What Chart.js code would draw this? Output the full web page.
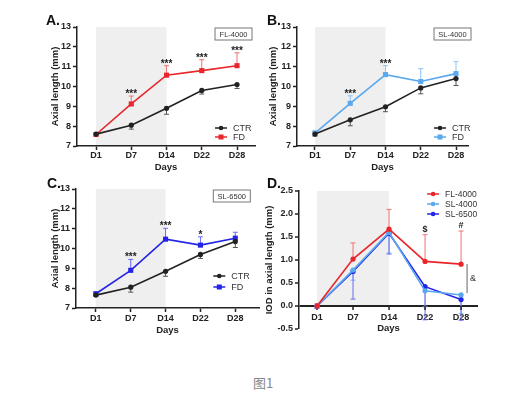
<!DOCTYPE html>
<html><head><meta charset="utf-8">
<script src="https://cdn.jsdelivr.net/npm/chart.js@4.4.1/dist/chart.umd.min.js"></script>
<style>
body{margin:0;background:#fff;width:526px;height:401px;position:relative;overflow:hidden;font-family:"Liberation Sans",Arial,sans-serif}
canvas{position:absolute}
.lt{position:absolute;font-weight:bold;font-size:14px;line-height:14px;color:#111}
#cap{position:absolute;left:0;width:526px;top:376px;text-align:center;font-family:"Noto Sans CJK SC";font-size:13px;line-height:13px;color:#888}
</style></head><body>
<canvas id="cA" width="263" height="175" style="left:0;top:0"></canvas>
<canvas id="cB" width="263" height="175" style="left:263px;top:0"></canvas>
<canvas id="cC" width="263" height="175" style="left:0;top:170px"></canvas>
<canvas id="cD" width="263" height="175" style="left:263px;top:170px"></canvas>
<div class="lt" style="left:46px;top:13px">A.</div>
<div class="lt" style="left:267px;top:13px">B.</div>
<div class="lt" style="left:47px;top:176px">C.</div>
<div class="lt" style="left:267px;top:176px">D.</div>
<div id="cap">图1</div>
<script>
// ---- data ----
const days = ['D1', 'D7', 'D14', 'D22', 'D28'];
const yTicksAL = [7, 8, 9, 10, 11, 12, 13];
const yTicksIOD = [-0.5, 0, 0.5, 1, 1.5, 2, 2.5];

const A_CTR = [7.6, 8.05, 8.9, 9.8, 10.1];
const A_CTR_err = [0.05, 0.2, 0.3, 0.18, 0.2];
const A_FD = [7.58, 9.12, 10.57, 10.8, 11.05];
const A_FD_err = [0.03, 0.4, 0.48, 0.55, 0.65];
const A_sig = ['', '***', '***', '***', '***'];

const B_CTR = [7.6, 8.32, 8.98, 9.93, 10.4];
const B_CTR_err = [0.1, 0.3, 0.25, 0.3, 0.35];
const B_FD = [7.65, 9.15, 10.6, 10.25, 10.65];
const B_FD_err = [0.1, 0.38, 0.45, 0.65, 0.6];
const B_sig = ['', '***', '***', '', ''];

const C_CTR = [7.65, 8.05, 8.85, 9.7, 10.35];
const C_CTR_err = [0.05, 0.25, 0.25, 0.2, 0.3];
const C_FD = [7.72, 8.9, 10.47, 10.17, 10.52];
const C_FD_err = [0.05, 0.55, 0.55, 0.42, 0.3];
const C_sig = ['', '***', '***', '*', ''];

const D_FL4000 = [0.0, 1.02, 1.67, 0.97, 0.91];
const D_FL4000_err = [0.05, 0.35, 0.43, 0.58, 0.72];
const D_SL4000 = [0.0, 0.78, 1.6, 0.33, 0.24];
const D_SL4000_err = [0.05, 0.22, 0.45, 0.35, 0.4];
const D_SL6500 = [0.0, 0.75, 1.58, 0.42, 0.14];
const D_SL6500_err = [0.05, 0.6, 0.45, 0.72, 0.45];
const D_sig = ['', '', '', '$', '#'];

// ---- styling ----
const FONT = '"Liberation Sans", Arial, sans-serif';
Chart.defaults.font.family = FONT;
const INK = '#222';

const panelPlugin = {
  id: 'panel',
  beforeDraw(chart, args, o) {
    const {ctx, chartArea: ca, scales: {x, y}} = chart;
    const yb = o.zeroAxis ? y.getPixelForValue(0) : ca.bottom;
    const x0 = x.getPixelForValue(0), x1 = x.getPixelForValue(2);
    ctx.save();
    ctx.fillStyle = '#efefef';
    ctx.fillRect(x0, ca.top, x1 - x0, yb - ca.top);
    ctx.restore();
  },
  beforeDatasetsDraw(chart, args, o) {
    const {ctx, scales: {x, y}} = chart;
    ctx.save();
    chart.data.datasets.forEach(ds => {
      ctx.strokeStyle = ds.errColor;
      ctx.lineWidth = 1;
      ds.data.forEach((p, i) => {
        const e = ds.err[i];
        if (!e) return;
        const px = x.getPixelForValue(p.x), py = y.getPixelForValue(p.y);
        const pe = y.getPixelForValue(p.y + ds.errDir * e);
        ctx.beginPath();
        ctx.moveTo(px, py); ctx.lineTo(px, pe);
        ctx.moveTo(px - 2.5, pe); ctx.lineTo(px + 2.5, pe);
        ctx.stroke();
      });
    });
    if (o.zeroAxis) {
      const y0 = y.getPixelForValue(0);
      ctx.strokeStyle = INK; ctx.lineWidth = 1.5;
      days.forEach((d, i) => {
        const px = x.getPixelForValue(i);
        ctx.beginPath(); ctx.moveTo(px, y0); ctx.lineTo(px, y0 + 4); ctx.stroke();
      });
    }
    ctx.restore();
  },
  afterDatasetsDraw(chart, args, o) {
    const {ctx, chartArea: ca, scales: {x, y}} = chart;
    ctx.save();
    // significance marks
    const sds = chart.data.datasets[o.sigSet];
    ctx.fillStyle = INK;
    ctx.textAlign = 'center';
    ctx.textBaseline = 'alphabetic';
    o.sig.forEach((t, i) => {
      if (!t) return;
      const top = y.getPixelForValue(sds.data[i].y + sds.err[i]);
      const isStar = t.indexOf('*') >= 0;
      ctx.font = 'bold ' + (isStar ? 10 : 9) + 'px ' + FONT;
      ctx.fillText(t, x.getPixelForValue(i), isStar ? top + 1 : top - 3);
    });
    // legend
    const lx = x.getPixelForValue(days.length - 1) + o.legend.dx;
    ctx.font = o.legend.size + 'px ' + FONT;
    ctx.textAlign = 'left';
    ctx.textBaseline = 'middle';
    chart.data.datasets.forEach((ds, k) => {
      const ly = (o.legend.fromTop ? ca.top : ca.bottom) + o.legend.dy + k * o.legend.step;
      ctx.strokeStyle = ds.borderColor; ctx.lineWidth = 1.5;
      ctx.beginPath(); ctx.moveTo(lx, ly); ctx.lineTo(lx + 12, ly); ctx.stroke();
      ctx.fillStyle = ds.borderColor;
      if (ds.pointStyle === 'rect') ctx.fillRect(lx + 3.5, ly - 2.5, 5, 5);
      else { ctx.beginPath(); ctx.arc(lx + 6, ly, 2.3, 0, Math.PI * 2); ctx.fill(); }
      ctx.fillStyle = '#333';
      ctx.fillText(ds.label, lx + 18, ly + 0.5);
    });
    // tag box
    if (o.box) {
      const cx = x.getPixelForValue(days.length - 1) - 3.5;
      const bt = ca.top + 1;
      ctx.strokeStyle = '#777'; ctx.lineWidth = 1;
      ctx.strokeRect(cx - 18.5, bt, 37, 12);
      ctx.fillStyle = '#333';
      ctx.font = '7.5px ' + FONT;
      ctx.textAlign = 'center';
      ctx.fillText(o.box, cx, bt + 6.5);
    }
    // bracket (panel D)
    if (o.bracket) {
      const i = days.length - 1;
      const bx = x.getPixelForValue(i) + 6;
      const ya = y.getPixelForValue(chart.data.datasets[o.bracket[0]].data[i].y);
      const yb = y.getPixelForValue(chart.data.datasets[o.bracket[1]].data[i].y + 0.04);
      ctx.strokeStyle = '#666'; ctx.lineWidth = 1;
      ctx.beginPath(); ctx.moveTo(bx, ya); ctx.lineTo(bx, yb); ctx.stroke();
      ctx.fillStyle = '#333'; ctx.font = '9px ' + FONT;
      ctx.textAlign = 'left';
      ctx.fillText('&', bx + 3, (ya + yb) / 2);
    }
    ctx.restore();
  }
};

function makePanel(cfg) {
  const tickFont = {family: FONT, size: 9, weight: 'bold'};
  const titleFont = {family: FONT, size: 9.5, weight: 'bold'};
  const zero = !!cfg.zeroAxis;
  new Chart(document.getElementById(cfg.id), {
    type: 'line',
    data: {
      datasets: cfg.sets.map(s => ({
        label: s.label,
        data: s.v.map((v, i) => ({x: i, y: v})),
        err: s.e, errDir: s.dir, errColor: s.errColor,
        borderColor: s.color, backgroundColor: s.color,
        pointStyle: s.style, pointRadius: s.style === 'rect' ? 3.6 : 2.6,
        pointBorderWidth: 0, borderWidth: 1.6, tension: 0
      }))
    },
    options: {
      responsive: false, animation: false, events: [],
      layout: {padding: {left: 0, top: cfg.padTop, right: cfg.padRight, bottom: 0}},
      plugins: {legend: {display: false}, tooltip: {enabled: false},
        panel: {sig: cfg.sig, sigSet: cfg.sigSet, legend: cfg.legend, box: cfg.box, zeroAxis: zero, bracket: cfg.bracket}},
      scales: {
        x: {
          type: 'linear', min: cfg.xMin, max: cfg.xMax,
          afterBuildTicks: sc => { sc.ticks = days.map((d, i) => ({value: i})); },
          afterFit: sc => { sc.height = cfg.xH; },
          ticks: {callback: v => days[v], font: tickFont, color: INK, padding: cfg.xTickPad, mirror: zero, autoSkip: false, maxRotation: 0},
          grid: zero ? {display: false, drawTicks: false} : {drawOnChartArea: false, drawTicks: true, tickLength: 4, tickColor: INK, tickWidth: 1.5},
          border: {display: !zero, color: INK, width: 1.5},
          title: {display: true, text: 'Days', font: titleFont, color: INK, padding: {top: 0, bottom: cfg.daysPad}}
        },
        y: {
          min: cfg.yTicks[0], max: cfg.yTicks[cfg.yTicks.length - 1],
          afterBuildTicks: sc => { sc.ticks = cfg.yTicks.map(v => ({value: v})); },
          afterFit: sc => { sc.width = cfg.yW; },
          ticks: {callback: v => zero ? v.toFixed(1) : String(v), font: tickFont, color: INK, padding: 2},
          grid: zero ? {
            drawOnChartArea: true, drawTicks: true, tickLength: 4, tickColor: INK, tickWidth: 1.5,
            color: c => (c.tick && c.tick.value === 0) ? INK : 'rgba(0,0,0,0)',
            lineWidth: c => (c.tick && c.tick.value === 0) ? 2 : 0
          } : {drawOnChartArea: false, drawTicks: true, tickLength: 4, tickColor: INK, tickWidth: 1.5},
          border: {display: true, color: INK, width: 1.5},
          title: {display: true, text: cfg.yTitle, font: titleFont, color: INK, padding: {top: cfg.yTitlePad, bottom: 0}}
        }
      }
    },
    plugins: [panelPlugin]
  });
}

const RED = '#e8262b', LBLUE = '#5aa8ee', BLUE = '#2424e6';

makePanel({id: 'cA', padTop: 27, padRight: 8, xMin: -0.54, xMax: 4.51, xH: 29, xTickPad: 0, daysPad: 1.5,
  yW: 77, yTitlePad: 49.5, yTicks: yTicksAL, yTitle: 'Axial length (mm)',
  sets: [{label: 'CTR', v: A_CTR, e: A_CTR_err, dir: -1, color: INK, errColor: '#555', style: 'circle'},
         {label: 'FD', v: A_FD, e: A_FD_err, dir: 1, color: RED, errColor: '#f07070', style: 'rect'}],
  sig: A_sig, sigSet: 1, box: 'FL-4000', legend: {dx: -22, dy: -18, step: 9, size: 9}});

makePanel({id: 'cB', padTop: 27, padRight: 58, xMin: -0.51, xMax: 4.34, xH: 29, xTickPad: 0, daysPad: 1.5,
  yW: 34, yTitlePad: 4.6, yTicks: yTicksAL, yTitle: 'Axial length (mm)',
  sets: [{label: 'CTR', v: B_CTR, e: B_CTR_err, dir: -1, color: INK, errColor: '#555', style: 'circle'},
         {label: 'FD', v: B_FD, e: B_FD_err, dir: 1, color: LBLUE, errColor: '#8cc2f2', style: 'rect'}],
  sig: B_sig, sigSet: 1, box: 'SL-4000', legend: {dx: -22, dy: -18, step: 9, size: 9}});

makePanel({id: 'cC', padTop: 19, padRight: 2, xMin: -0.57, xMax: 4.68, xH: 37, xTickPad: 1, daysPad: 8.6,
  yW: 76, yTitlePad: 49.6, yTicks: yTicksAL, yTitle: 'Axial length (mm)',
  sets: [{label: 'CTR', v: C_CTR, e: C_CTR_err, dir: -1, color: INK, errColor: '#555', style: 'circle'},
         {label: 'FD', v: C_FD, e: C_FD_err, dir: 1, color: BLUE, errColor: '#6a6af0', style: 'rect'}],
  sig: C_sig, sigSet: 1, box: 'SL-6500', legend: {dx: -22, dy: -32, step: 11, size: 9}});

makePanel({id: 'cD', zeroAxis: true, padTop: 21, padRight: 48, xMin: -0.5, xMax: 4.47, xH: 16, xTickPad: 6.5, daysPad: 10.6,
  yW: 36, yTitlePad: 0.6, yTicks: yTicksIOD, yTitle: 'IOD in axial length (mm)',
  sets: [{label: 'FL-4000', v: D_FL4000, e: D_FL4000_err, dir: 1, color: RED, errColor: '#f07070', style: 'circle'},
         {label: 'SL-4000', v: D_SL4000, e: D_SL4000_err, dir: -1, color: LBLUE, errColor: '#8cc2f2', style: 'circle'},
         {label: 'SL-6500', v: D_SL6500, e: D_SL6500_err, dir: -1, color: BLUE, errColor: '#6a6af0', style: 'circle'}],
  sig: D_sig, sigSet: 0, box: null, bracket: [0, 1], legend: {dx: -34, dy: 3, step: 10, fromTop: true, size: 8.5}});
</script>
</body></html>
